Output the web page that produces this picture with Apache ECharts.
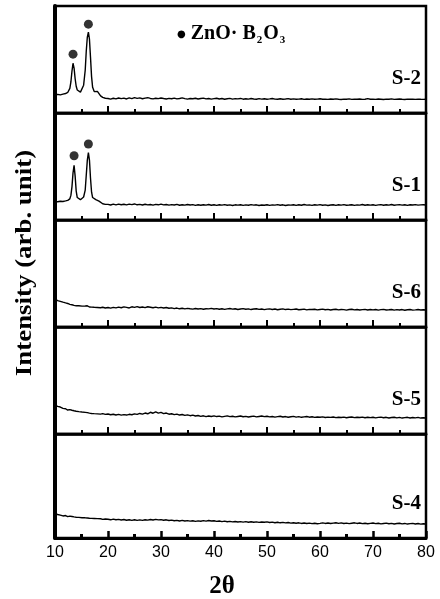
<!DOCTYPE html>
<html>
<head>
<meta charset="utf-8">
<script src="https://cdn.jsdelivr.net/npm/echarts@6/dist/echarts.min.js"></script>
<style>
html, body {margin: 0; padding: 0; background: #fff;}
#chart {width: 440px; height: 599px;}
</style>
</head>
<body>
<div id="chart"></div>
<script>
// sample names, top to bottom
var samples = ["S-2", "S-1", "S-6", "S-5", "S-4"];
var xTicks = [10, 20, 30, 40, 50, 60, 70, 80];

// 2theta sample positions: dense near the ZnO.B2O3 peaks, then every 0.5 deg
var peakX = [10, 10.5, 11, 11.5, 12, 12.4, 12.8, 13.0, 13.2, 13.4, 13.6, 13.8, 14.0, 14.2, 14.5, 14.8,
    15.1, 15.4, 15.7, 15.9, 16.1, 16.3, 16.5, 16.7, 16.9, 17.1, 17.4, 17.7, 18.0, 18.3, 18.6, 19.0, 19.5];
var tailX = [];
for (var t = 20; t <= 80; t += 0.5) { tailX.push(t) }
var twoTheta = peakX.concat(tailX);

// intensities (arb. unit, 0-100 per panel)
var s2 = [17.0, 17.4, 16.9, 17.6, 18.2, 19.2, 23.0, 29.0, 39.0, 46.5, 42.0, 32.0, 25.0, 21.5, 19.8, 19.5,
    21.0, 26.0, 40.0, 58.0, 71.0, 75.5, 69.0, 52.0, 34.0, 24.0, 20.0, 19.6, 20.2, 18.4, 16.0, 14.6, 13.8,
    13.6, 13.0, 13.8, 13.2, 14.0, 13.4, 13.9, 13.1, 14.2, 13.5, 14.4, 13.7, 14.1, 13.3, 13.9, 14.3, 13.6, 13.2, 13.8, 13.4,
    14.0, 13.5, 13.1, 13.7, 13.3, 13.9, 13.2, 13.6, 14.1, 13.4, 13.0, 13.6, 13.3, 13.8, 13.1, 13.5, 13.9, 13.2, 13.6, 13.0,
    13.4, 13.8, 13.1, 13.5, 12.9, 13.3, 13.7, 13.0, 13.4, 13.2, 13.6, 12.9, 13.3, 13.0, 13.5, 13.1, 12.8, 13.4, 13.0, 13.3,
    12.9, 13.2, 13.6, 13.0, 12.8, 13.3, 12.9, 13.1, 13.4, 12.8, 13.2, 12.9, 13.0, 13.3, 12.7, 13.1, 12.9, 13.2, 12.8, 13.0,
    13.3, 12.8, 13.0, 12.7, 13.1, 12.9, 13.2, 12.8, 12.6, 13.0, 12.9, 13.2, 12.7, 13.0, 12.8, 13.1, 12.7, 12.9, 13.4, 12.8,
    13.0, 12.7, 13.1, 12.9, 12.6, 13.0, 12.8, 13.2, 12.7, 12.9, 13.1, 12.8, 12.6, 13.0, 12.8, 12.9, 12.7, 13.0, 12.8, 12.7,
    12.9];
var s1 = [17.2, 17.0, 17.5, 17.3, 17.9, 18.4, 19.8, 23.0, 31.0, 44.0, 51.0, 41.0, 27.0, 21.0, 19.2, 19.0,
    19.6, 21.5, 28.0, 42.0, 56.0, 63.0, 56.0, 39.0, 26.0, 21.0, 19.6, 19.0, 18.8, 17.6, 16.2, 15.2, 14.6,
    14.6, 14.0, 14.8, 14.2, 14.9, 14.3, 14.7, 14.1, 14.8, 14.4, 15.0, 14.2, 14.6, 14.0, 14.7, 14.1, 14.5, 13.9, 14.6, 14.2,
    14.8, 14.1, 14.5, 13.9, 14.4, 14.0, 14.6, 13.8, 14.3, 13.9, 14.5, 14.0, 14.4, 13.7, 14.2, 13.8, 14.3, 13.9, 14.5, 13.8,
    14.2, 13.7, 14.3, 13.9, 14.4, 13.8, 14.1, 13.6, 14.2, 13.9, 14.3, 13.7, 14.1, 13.8, 14.4, 13.9, 14.2, 13.6, 14.0, 13.8,
    14.3, 13.7, 14.1, 13.9, 14.4, 13.8, 14.2, 13.6, 14.0, 13.9, 14.3, 13.7, 14.2, 13.8, 14.5, 13.9, 14.1, 13.7, 14.2, 13.9,
    14.4, 13.8, 14.1, 13.6, 14.0, 14.3, 13.7, 14.2, 13.9, 14.4, 13.8, 14.0, 14.3, 13.7, 14.1, 13.9, 14.5, 13.8, 14.2, 13.9,
    14.3, 13.7, 14.1, 14.4, 13.8, 14.2, 13.9, 14.5, 13.8, 14.1, 14.4, 13.9, 14.2, 13.7, 14.3, 14.0, 14.4, 13.9, 14.1, 14.3,
    14.0];
var s6 = [26.0, 24.6, 24.0, 23.2, 22.5, 22.0, 21.2, 21.6, 20.8, 21.0, 20.2, 20.6, 19.8, 19.4, 19.9, 19.0,
    19.5, 18.8, 19.6, 19.1, 19.8, 19.2, 18.7, 19.3, 18.6, 19.0, 18.4, 18.9, 18.2, 18.7, 18.0, 18.5, 17.8,
    18.2, 17.6, 18.4, 17.9, 18.6, 18.0, 18.8, 18.3, 17.8, 18.9, 18.4, 19.0, 18.2, 18.7, 18.1, 18.9, 18.5, 18.0, 18.6, 17.9,
    18.4, 17.8, 18.2, 17.5, 17.9, 17.2, 17.7, 17.0, 17.5, 16.9, 17.4, 17.0, 16.7, 17.3, 16.8, 17.2, 16.6, 17.1, 16.9, 17.4,
    16.8, 17.2, 16.6, 17.0, 16.5, 16.9, 17.3, 16.7, 17.1, 16.4, 16.8, 17.2, 16.6, 16.9, 16.3, 16.8, 17.0, 16.5, 16.8, 16.2,
    16.7, 16.9, 16.4, 16.8, 16.1, 16.6, 16.9, 16.3, 16.7, 16.2, 16.5, 16.8, 16.1, 16.4, 16.7, 16.0, 16.5, 16.3, 16.6, 16.0,
    16.4, 16.7, 16.1, 16.5, 15.9, 16.3, 16.6, 16.0, 16.4, 16.2, 15.8, 16.3, 16.6, 16.0, 16.4, 15.9, 16.2, 16.5, 15.9, 16.3,
    16.0, 16.4, 15.8, 16.2, 16.5, 15.9, 16.1, 16.4, 15.8, 16.2, 15.9, 16.3, 15.7, 16.1, 16.4, 15.8, 16.0, 16.3, 15.9, 16.1,
    15.9];
var s5 = [27.0, 25.8, 25.2, 24.0, 23.6, 22.4, 22.8, 21.8, 22.2, 21.2, 21.7, 20.8, 21.3, 20.4, 20.9, 19.8,
    20.5, 19.6, 20.2, 19.4, 20.0, 20.6, 19.5, 20.1, 19.2, 19.8, 19.0, 19.6, 18.8, 19.3, 18.6, 19.0, 18.3,
    18.7, 18.0, 18.5, 17.8, 18.3, 17.6, 18.1, 17.7, 18.4, 18.0, 18.8, 18.3, 19.2, 18.6, 19.6, 18.9, 20.3, 19.4, 20.6, 19.5,
    20.2, 19.0, 19.6, 18.5, 18.9, 18.1, 18.6, 17.7, 18.2, 17.4, 17.9, 17.1, 17.6, 16.8, 17.3, 16.5, 17.0, 16.2, 16.8, 16.4,
    16.9, 16.3, 16.7, 16.0, 16.5, 16.9, 16.2, 16.6, 16.0, 16.4, 16.8, 16.1, 16.5, 15.9, 16.3, 16.7, 16.0, 16.4, 16.8, 16.2,
    16.6, 16.0, 16.4, 15.8, 16.2, 16.6, 15.9, 16.3, 15.7, 16.1, 16.5, 15.8, 16.2, 15.6, 16.0, 16.4, 15.7, 16.1, 15.5, 15.9,
    15.6, 16.0, 15.4, 15.8, 15.5, 15.9, 15.3, 15.7, 15.4, 15.8, 15.2, 15.6, 15.9, 15.3, 15.7, 15.4, 15.8, 15.2, 15.6, 15.3,
    15.7, 15.1, 15.5, 15.8, 15.2, 15.6, 15.0, 15.4, 15.7, 15.1, 15.5, 14.9, 15.3, 15.6, 15.0, 15.4, 15.1, 15.5, 14.9, 15.2,
    15.0];
var s4 = [23.5, 22.6, 22.0, 21.2, 21.6, 20.6, 21.0, 20.2, 20.7, 19.8, 20.3, 19.5, 20.0, 19.3, 19.8, 19.0,
    19.5, 18.8, 19.4, 18.7, 19.2, 18.6, 19.0, 18.4, 18.9, 18.3, 18.8, 18.1, 18.6, 18.0, 18.5, 17.9, 18.3,
    18.0, 17.5, 18.2, 17.6, 17.9, 17.3, 17.8, 17.1, 17.6, 17.0, 17.5, 16.9, 17.4, 17.0, 17.6, 17.2, 17.8, 17.3, 17.9, 17.4,
    17.7, 17.1, 17.5, 16.8, 17.2, 16.6, 17.0, 16.4, 16.9, 16.3, 16.7, 16.2, 16.6, 16.0, 16.5, 16.1, 16.7, 16.2, 16.8, 16.3,
    16.6, 16.0, 16.4, 15.8, 16.2, 15.6, 16.0, 15.5, 15.9, 15.4, 15.8, 15.3, 15.7, 15.2, 15.6, 15.1, 15.5, 15.0, 15.4, 15.1,
    15.5, 14.9, 15.3, 14.7, 15.1, 14.6, 15.0, 14.5, 14.9, 14.3, 14.7, 14.2, 14.6, 14.0, 14.4, 13.9, 14.3, 13.8, 14.2, 13.7,
    14.1, 14.6, 14.0, 14.4, 13.9, 14.3, 14.7, 14.1, 14.5, 13.9, 14.3, 13.8, 14.2, 14.6, 14.0, 14.4, 13.8, 14.2, 13.7, 14.1,
    14.4, 13.8, 14.2, 13.6, 14.0, 14.3, 13.7, 14.1, 13.5, 13.9, 14.2, 13.6, 14.0, 13.4, 13.8, 14.1, 13.5, 13.9, 13.3, 13.7,
    13.5];
var spectra = [s2, s1, s6, s5, s4];

// peak markers (ZnO.B2O3)
var dotsS2 = [[13.4, 55], [16.3, 83]];
var dotsS1 = [[13.6, 60], [16.3, 71]];

var panelTop = [6, 113, 220, 327, 434];
var panelH = [107, 107, 107, 107, 104];
var serif = "'Liberation Serif', 'DejaVu Serif', serif";

function pairs(ys) {
    var out = [];
    for (var i = 0; i < ys.length && i < twoTheta.length; i++) { out.push([twoTheta[i], ys[i]]) }
    return out;
}

var chart = echarts.init(document.getElementById("chart"), null, {renderer: "canvas"});
var grid = [], xAxis = [], yAxis = [], series = [], graphic = [];

samples.forEach(function(name, i) {
    var last = i == samples.length-1;
    grid.push({left: 55, right: 14, top: panelTop[i], height: panelH[i],
        show: true, borderColor: "#000", borderWidth: 2.5});
    xAxis.push({type: "value", gridIndex: i, min: 10, max: 80, interval: 10,
        axisLine: {show: true, onZero: false, lineStyle: {color: "#000", width: last? 3: 2.5}},
        axisTick: {show: true, inside: true, length: 7, lineStyle: {color: "#000", width: last? 2.5: 2}},
        minorTick: {show: true, splitNumber: 2, length: 4, lineStyle: {color: "#000", width: last? 3: 2}},
        splitLine: {show: false}, minorSplitLine: {show: false},
        axisLabel: {show: last, margin: 7, color: "#000", fontSize: 16, fontFamily: "'Liberation Sans', Arial, sans-serif",
            formatter: function(v) { return xTicks.indexOf(v) > -1? String(v): "" }},
    });
    yAxis.push({type: "value", gridIndex: i, min: 0, max: 100,
        axisLine: {show: true, lineStyle: {color: "#000", width: 4}},
        axisTick: {show: false}, axisLabel: {show: false}, splitLine: {show: false}});
    series.push({type: "line", name: name, xAxisIndex: i, yAxisIndex: i, data: pairs(spectra[i]),
        showSymbol: false, smooth: false, animation: false,
        lineStyle: {color: "#000", width: 1.4}});
    graphic.push({type: "text", right: 19, top: panelTop[i]+panelH[i]-45,
        style: {text: name, fill: "#000", font: "bold 21px "+serif}});
});

series.push({type: "scatter", xAxisIndex: 0, yAxisIndex: 0, data: dotsS2, symbolSize: 9,
    itemStyle: {color: "#000"}, animation: false});
series.push({type: "scatter", xAxisIndex: 1, yAxisIndex: 1, data: dotsS1, symbolSize: 9,
    itemStyle: {color: "#000"}, animation: false});

// legend text, axis titles
graphic.push({type: "text", left: 177, top: 21, style: {
    text: "{d|●}{a| ZnO· B}{s|2}{a|O}{s|3}",
    rich: {
        d: {fontFamily: "'DejaVu Sans', sans-serif", fontSize: 10, fill: "#000", lineHeight: 24, padding: [2, 0, 0, 0]},
        a: {fontFamily: serif, fontWeight: "bold", fontSize: 20, fill: "#000", lineHeight: 24},
        s: {fontFamily: serif, fontWeight: "bold", fontSize: 11, fill: "#000", lineHeight: 24, padding: [14, 1, 0, 1]},
    }}});
graphic.push({type: "text", x: 25, y: 263, rotation: Math.PI/2, scaleX: 1.12, style: {
    text: "Intensity (arb. unit)", fill: "#000", font: "bold 24px "+serif, align: "center", verticalAlign: "middle"}});
graphic.push({type: "text", x: 222, y: 587, style: {
    text: "2θ", fill: "#000", font: "bold 25px "+serif, align: "center", verticalAlign: "middle"}});

chart.setOption({animation: false, backgroundColor: "#fff", grid: grid, xAxis: xAxis, yAxis: yAxis, series: series, graphic: graphic});
</script>
</body>
</html>
